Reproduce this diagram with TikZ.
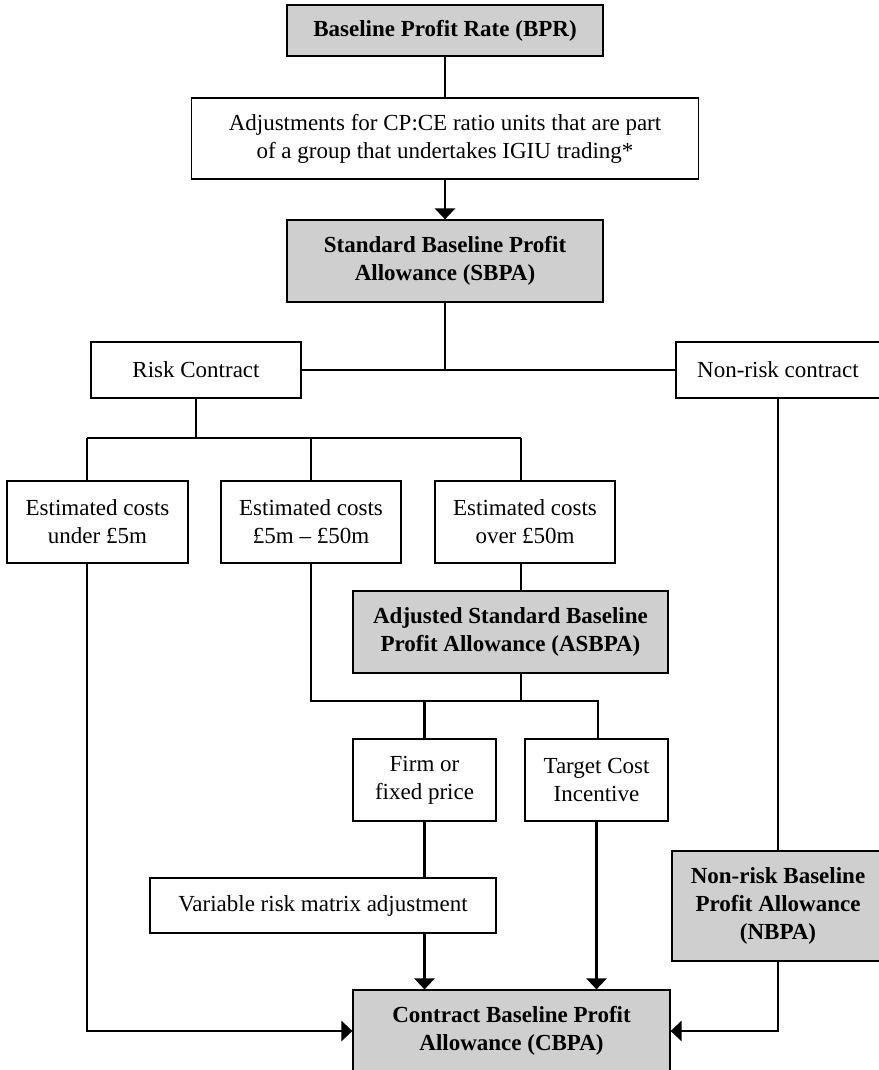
\documentclass[tikz,border=0pt]{standalone}
\usepackage{fontspec}
\setmainfont{Liberation Serif}
\usetikzlibrary{arrows.meta}
\definecolor{boxgray}{RGB}{207,207,207}
\tikzset{
  box/.style={draw, line width=0.6pt, fill=white, align=center, inner sep=2pt,
    font=\fontsize{11.5}{14}\selectfont},
  keybox/.style={box, fill=boxgray, font=\fontsize{11.5}{14}\selectfont\bfseries},
  link/.style={line width=1.4pt},
  arr/.style={link, -{Triangle[length=5.5pt,width=10pt]}},
}
\begin{document}
\begin{tikzpicture}[x=0.5pt, y=-0.5pt]
\useasboundingbox (0,0) rectangle (878,1070);

% boxes
\node[keybox, minimum width=158pt, minimum height=25.5pt] (bpr) at (445,30.5) {Baseline Profit Rate (BPR)};
\node[box, minimum width=253.5pt, minimum height=40.5pt] (adj) at (445,138.5) {Adjustments for CP:CE ratio units that are part\\of a group that undertakes IGIU trading*};
\node[keybox, minimum width=158pt, minimum height=41pt] (sbpa) at (445,261) {Standard Baseline Profit\\Allowance (SBPA)};
\node[box, minimum width=105pt, minimum height=28pt] (risk) at (196,370) {Risk Contract};
\node[box, minimum width=102pt, minimum height=28pt] (nonrisk) at (778,370) {Non-risk contract};
\node[box, minimum width=90.5pt, minimum height=41pt] (under) at (97.5,522) {Estimated costs\\under £5m};
\node[box, minimum width=90pt, minimum height=41pt] (mid) at (311,522) {Estimated costs\\£5m – £50m};
\node[box, minimum width=90pt, minimum height=41pt] (over) at (525,522) {Estimated costs\\over £50m};
\node[keybox, minimum width=157.5pt, minimum height=41pt] (asbpa) at (510.5,632) {Adjusted Standard Baseline\\Profit Allowance (ASBPA)};
\node[box, minimum width=71.5pt, minimum height=41pt] (firm) at (424.5,780) {Firm or\\fixed price};
\node[box, minimum width=71.5pt, minimum height=41pt] (target) at (596.5,780) {Target Cost\\Incentive};
\node[box, minimum width=173pt, minimum height=27.5pt] (var) at (323,905.5) {Variable risk matrix adjustment};
\node[keybox, minimum width=106pt, minimum height=55pt] (nbpa) at (778,906) {Non-risk Baseline\\Profit Allowance\\(NBPA)};
\node[keybox, minimum width=158.5pt, minimum height=41pt] (cbpa) at (511.5,1031) {Contract Baseline Profit\\Allowance (CBPA)};

% junctions
\coordinate (c1) at (87,438);
\coordinate (c3) at (521,438);
\coordinate (fl) at (309,701);
\coordinate (fr) at (598,701);

% top chain
\draw[link] (bpr.south) -- (bpr.south |- adj.north);
\draw[arr] (adj.south) -- (adj.south |- sbpa.north);
\draw[link] (sbpa.south) -- (sbpa.south |- risk.east);
\draw[link] (risk) -- (nonrisk);

% risk branch
\draw[link] (risk.south) -- (risk.south |- c1);
\draw[link] (c1) -- (c3);
\draw[link] (c1) -- (c1 |- under.north);
\draw[link] (mid.north |- c1) -- (mid.north);
\draw[link] (c3) -- (c3 |- over.north);
\draw[link] (c3 |- over.south) -- (c3 |- asbpa.north);
\draw[link] (mid.south) -- (mid.south |- fl) -- (fr) -- (fr |- target.north);
\draw[link] (c3 |- asbpa.south) -- (c3 |- fl);
\draw[link] (firm.north |- fl) -- (firm.north);
\draw[link] (firm.south) -- (firm.south |- var.north);
\draw[arr] (firm.south |- var.south) -- (firm.south |- cbpa.north);
\draw[arr] (target.south) -- (target.south |- cbpa.north);
\draw[arr] (c1 |- under.south) |- (cbpa.west);

% non-risk branch
\draw[link] (nonrisk) -- (nbpa);
\draw[arr] (nbpa.south) |- (cbpa.east);
\end{tikzpicture}
\end{document}
